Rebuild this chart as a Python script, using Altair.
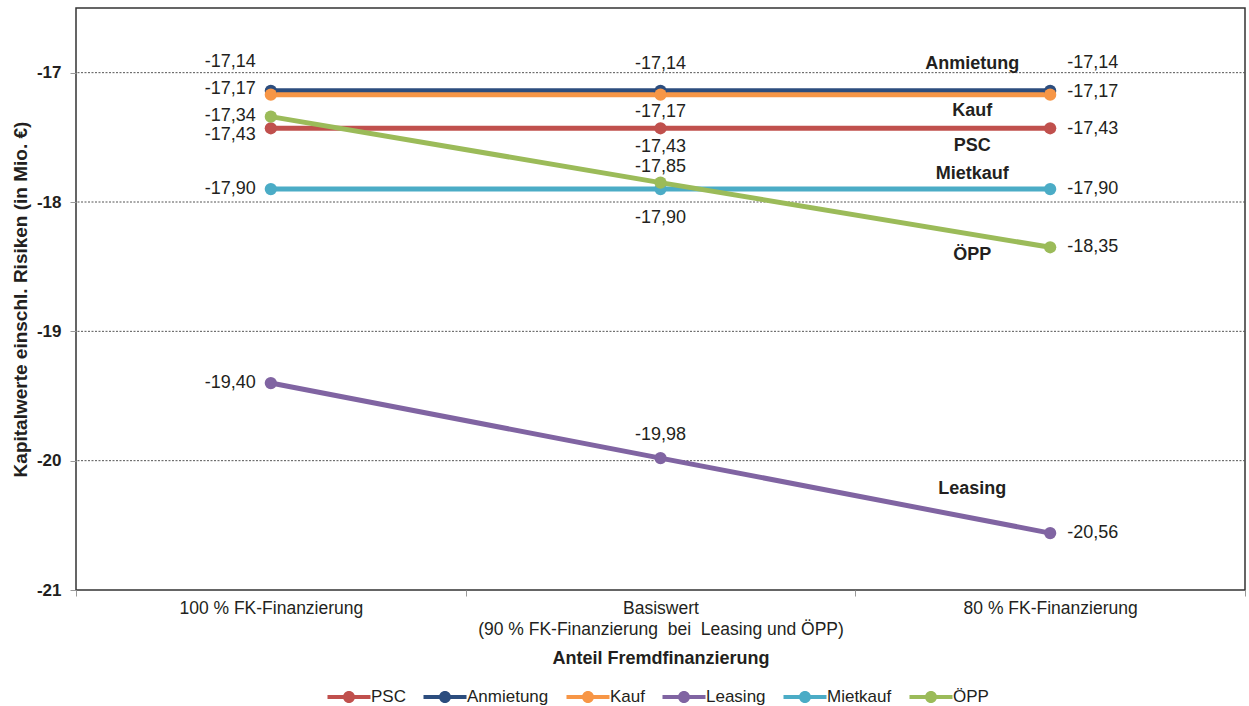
import altair as alt
import pandas as pd

# Scenarios on the x axis ("|" marks a line break in the axis label)
categories = [
    "100 % FK-Finanzierung",
    "Basiswert|(90 % FK-Finanzierung\u00a0 bei\u00a0 Leasing und ÖPP)",
    "80 % FK-Finanzierung",
]

# Procurement variants, in drawing / legend order
series = ["PSC", "Anmietung", "Kauf", "Leasing", "Mietkauf", "ÖPP"]
colors = ["#C0504D", "#2C4D7E", "#F79646", "#8064A2", "#4BACC6", "#9BBB59"]

# Net present values incl. risks (Mio. €) per variant and scenario
psc = [-17.43, -17.43, -17.43]
anmietung = [-17.14, -17.14, -17.14]
kauf = [-17.17, -17.17, -17.17]
leasing = [-19.40, -19.98, -20.56]
mietkauf = [-17.90, -17.90, -17.90]
oepp = [-17.34, -17.85, -18.35]

values = {
    "PSC": psc,
    "Anmietung": anmietung,
    "Kauf": kauf,
    "Leasing": leasing,
    "Mietkauf": mietkauf,
    "ÖPP": oepp,
}

# Vertical pixel offsets of the value labels (left, middle, right scenario)
label_shift = {
    "PSC": [7, 19, 1],
    "Anmietung": [-29, -27, -28],
    "Kauf": [-6, 17, -3],
    "Leasing": [0, -23, 0],
    "Mietkauf": [0, 29, 0],
    "ÖPP": [-1, -16, 0],
}
# Vertical pixel offsets of the series name labels
name_shift = {
    "PSC": 18,
    "Anmietung": -27,
    "Kauf": 16,
    "Leasing": -44,
    "Mietkauf": -15,
    "ÖPP": 8,
}

rows = []
for s in series:
    for i, c in enumerate(categories):
        v = values[s][i]
        rows.append({
            "Variante": s,
            "Legende": s,
            "Szenario": c,
            "pos": i,
            "Wert": v,
            "Text": f"{v:.2f}".replace(".", ","),
            "shift": label_shift[s][i],
        })
df = pd.DataFrame(rows)

names = pd.DataFrame({
    "Variante": series,
    "Szenario": [categories[2]] * len(series),
    "Wert": [values[s][2] for s in series],
    "shift": [name_shift[s] for s in series],
})

FONT = "Liberation Sans"
TXT = "#231F20"

x_scale = alt.Scale(type="band", domain=categories, paddingInner=0, paddingOuter=0)
y_scale = alt.Scale(domain=[-21, -16.5], nice=False, zero=False)

x_enc = alt.X(
    "Szenario:N",
    sort=categories,
    scale=x_scale,
    axis=alt.Axis(
        title="Anteil Fremdfinanzierung",
        labelAngle=0,
        labelExpr="split(datum.label, '|')",
        labelFontSize=17.5,
        labelColor=TXT,
        labelPadding=3,
        labelLineHeight=21,
        labelLimit=0,
        titleFontSize=18,
        titleFontWeight="bold",
        titleColor=TXT,
        titlePadding=12,
        tickBand="extent",
        tickSize=6,
        tickColor="#999999",
        domain=False,
        grid=False,
    ),
)

y_enc = alt.Y(
    "Wert:Q",
    scale=y_scale,
    axis=alt.Axis(
        title="Kapitalwerte einschl. Risiken (in Mio. €)",
        values=[-21, -20, -19, -18, -17],
        labelExpr="'' + datum.value",
        labelFontSize=17,
        labelFontWeight="bold",
        labelColor=TXT,
        labelPadding=9,
        titleFontSize=19,
        titleFontWeight="bold",
        titleColor=TXT,
        titlePadding=6,
        tickSize=6,
        tickColor="#999999",
        domain=False,
        grid=False,
    ),
)

# Dotted horizontal gridlines
grid = alt.Chart(pd.DataFrame({"g": [-20, -19, -18, -17]})).mark_rule(
    color="#555555", strokeDash=[2, 1.5], strokeWidth=1
).encode(y=alt.Y("g:Q", scale=y_scale))

lines = alt.Chart(df).mark_line(strokeWidth=5).encode(
    x=x_enc,
    y=y_enc,
    stroke=alt.Stroke("Variante:N", sort=series,
                      scale=alt.Scale(domain=series, range=colors), legend=None),
    order="pos:Q",
)

# Markers; their fill scale also drives the legend (line with a dot)
points = alt.Chart(df).mark_circle(size=150, opacity=1).encode(
    x=alt.X("Szenario:N", sort=categories),
    y="Wert:Q",
    fill=alt.Fill(
        "Legende:N",
        sort=series,
        scale=alt.Scale(domain=series, range=colors),
        legend=alt.Legend(
            title=None,
            orient="none",
            direction="horizontal",
            legendX=251,
            legendY=667,
            labelFontSize=17,
            labelColor=TXT,
            labelFont=FONT,
            symbolType="M-1,-0.09H1V0.09H-1Z M0.28,0 A0.28,0.28 0 1,1 -0.28,0 A0.28,0.28 0 1,1 0.28,0Z",
            symbolSize=1850,
            symbolStrokeWidth=0,
            symbolOpacity=1,
            columnPadding=17,
            labelOffset=0,
        ),
    ),
)

layers = [grid, lines, points]

# Value labels, each nudged vertically by its own offset
align_by_pos = {0: ("right", -15), 1: ("center", 0), 2: ("left", 17)}
for (pos, shift), _ in df.groupby(["pos", "shift"]):
    align, dx = align_by_pos[pos]
    layers.append(
        alt.Chart(df).transform_filter(
            (alt.datum.pos == pos) & (alt.datum.shift == shift)
        ).mark_text(
            align=align, baseline="middle", dx=dx, dy=int(shift),
            fontSize=18, font=FONT, color=TXT,
        ).encode(
            x=alt.X("Szenario:N", sort=categories),
            y="Wert:Q",
            text="Text:N",
        )
    )

# Series names next to the right-hand end of each line
for s in series:
    layers.append(
        alt.Chart(names).transform_filter(alt.datum.Variante == s).mark_text(
            align="center", baseline="middle", dx=-78, dy=name_shift[s],
            fontSize=18, fontWeight="bold", font=FONT, color=TXT,
        ).encode(
            x=alt.X("Szenario:N", sort=categories),
            y="Wert:Q",
            text="Variante:N",
        )
    )

chart = alt.layer(*layers).properties(
    width=1169,
    height=582,
    autosize=alt.AutoSizeParams(type="none"),
    padding={"left": 76, "top": 8, "right": 4, "bottom": 116},
).resolve_scale(
    fill="independent",
    stroke="independent",
).configure(
    font=FONT,
    background="white",
).configure_view(
    stroke="#333333",
    strokeWidth=1.5,
)

chart.save("out.html", embed_options={"renderer": "svg", "actions": False})
